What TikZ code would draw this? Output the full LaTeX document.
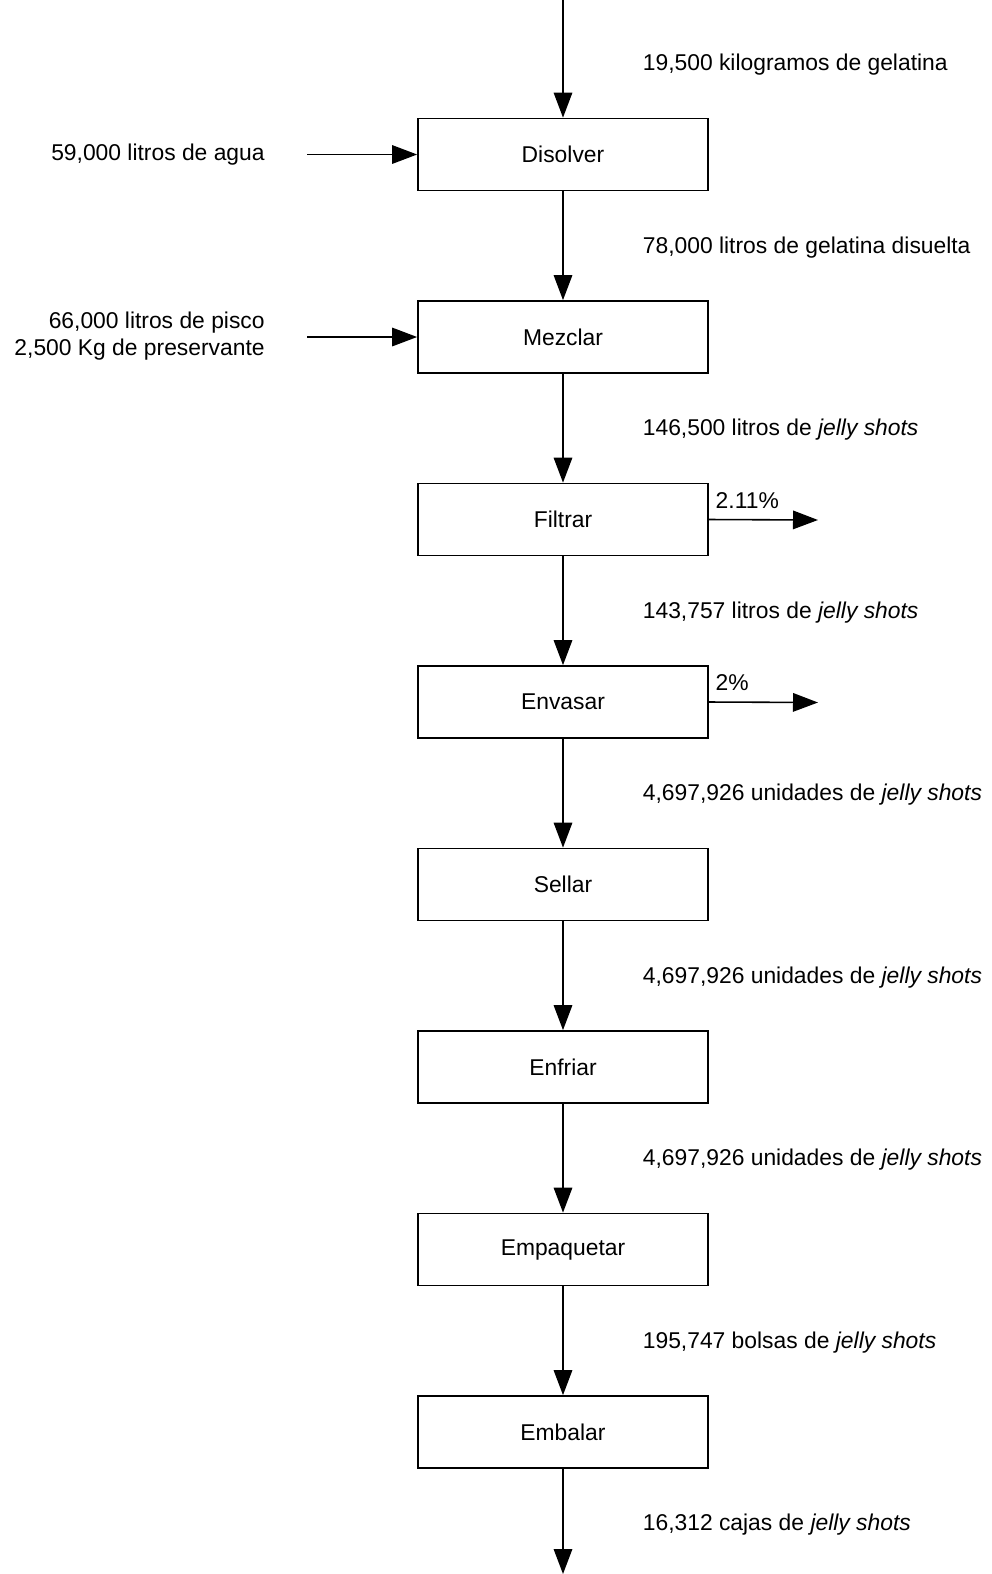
\documentclass[tikz,border=0pt]{standalone}
\usepackage{fontspec}
\setmainfont{Liberation Sans}
\usetikzlibrary{arrows.meta}

\tikzset{
	caja/.style={draw,line width=1pt,minimum width=5.8cm,minimum height=1.44cm},
	flecha/.style={line width=0.9pt,-{Triangle[length=0.5cm,width=0.37cm]}},
	dato/.style={anchor=west,inner sep=0pt},
}

\begin{document}
\begin{tikzpicture}[font=\fontsize{13}{15.5}\selectfont]
\useasboundingbox (0,0) rectangle (19.84,-31.48);

\coordinate (entrada) at (11.26,0);
\coordinate (salida) at (11.26,-31.48);

% etapas del proceso
\foreach \paso [count=\i] in {Disolver,Mezclar,Filtrar,Envasar,Sellar,Enfriar,Empaquetar,Embalar}
	{
	\node[caja] (paso\i) at (11.26,{-3.09-3.65*(\i-1)}) {\paso};
	}

\draw[flecha] (entrada) -- (paso1);
\foreach \i [remember=\i as \prev (initially 1)] in {2,...,8}
	{
	\draw[flecha] (paso\prev) -- (paso\i);
	}
\draw[flecha] (paso8) -- (salida);

% flujos
\foreach \texto [count=\i] in {{19,500 kilogramos de gelatina},
	{78,000 litros de gelatina disuelta},
	{146,500 litros de \textit{jelly shots}},
	{143,757 litros de \textit{jelly shots}},
	{4,697,926 unidades de \textit{jelly shots}},
	{4,697,926 unidades de \textit{jelly shots}},
	{4,697,926 unidades de \textit{jelly shots}},
	{195,747 bolsas de \textit{jelly shots}},
	{16,312 cajas de \textit{jelly shots}}}
	{
	\node[dato] (flujo\i) at (12.85,{-1.3-3.65*(\i-1)}) {\texto};
	}

% entradas laterales
\node[anchor=east,inner sep=0pt] (agua) at (5.3,-3.09) {59,000 litros de agua};
\coordinate (inagua) at (6.14,-3.09);
\draw[flecha] (inagua) -- (paso1.west);

\node[anchor=east,inner sep=0pt,align=right] (pisco) at (5.3,-6.72) {66,000 litros de pisco\\2,500 Kg de preservante};
\coordinate (inpisco) at (6.14,-6.74);
\draw[flecha] (inpisco) -- (paso2.west);

% mermas
\coordinate (merma1) at (16.36,-10.4);
\draw[flecha] (paso3.east) -- (merma1);
\node[anchor=south west,inner sep=0pt] (pct1) at ([xshift=0.13cm,yshift=0.22cm]paso3.east) {2.11\%};

\coordinate (merma2) at (16.36,-14.05);
\draw[flecha] (paso4.east) -- (merma2);
\node[anchor=south west,inner sep=0pt] (pct2) at ([xshift=0.13cm,yshift=0.22cm]paso4.east) {2\%};
\end{tikzpicture}
\end{document}
